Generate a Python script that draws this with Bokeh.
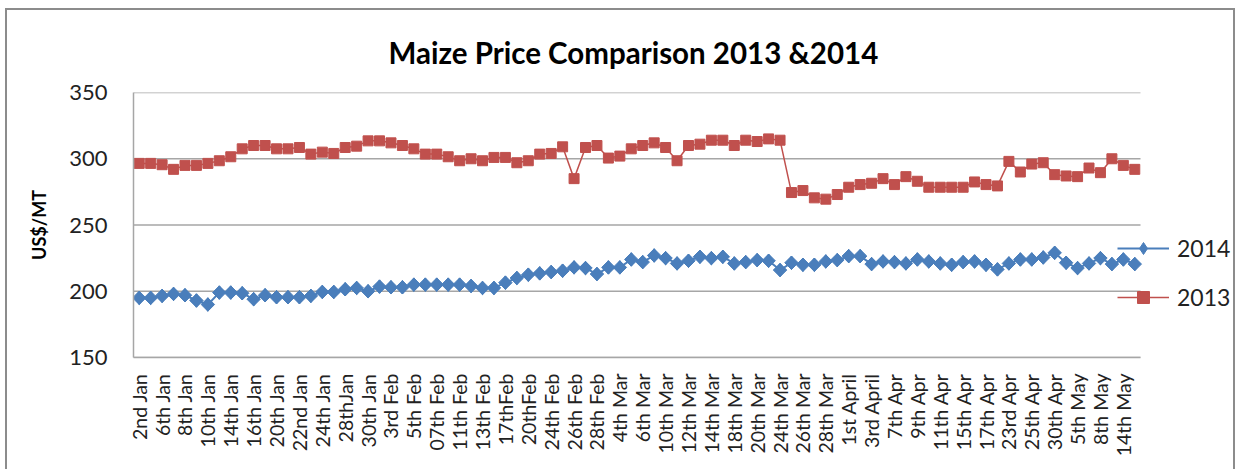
import math
from bokeh.plotting import figure
from bokeh.models import FixedTicker, Legend, LegendItem, Range1d
from bokeh.embed import file_html
from bokeh.resources import INLINE

title_text = "Maize Price Comparison  2013 &2014"
y_label = "US$/MT"
y_ticks = [150, 200, 250, 300, 350]

tick_labels = ["2nd Jan", "6th Jan", "8th Jan", "10th Jan", "14th Jan", "16th Jan", "20th Jan",
               "22nd Jan", "24th Jan", "28thJan", "30th Jan", "3rd Feb", "5th Feb", "07th Feb",
               "11th Feb", "13th Feb", "17thFeb", "20thFeb", "24th Feb", "26th Feb", "28th Feb",
               "4th Mar", "6th Mar", "10th Mar", "12th Mar", "14th Mar", "18th Mar", "20th Mar",
               "24th Mar", "26th Mar", "28th Mar", "1st April", "3rd April", "7th Apr", "9th Apr",
               "11th Apr", "15th Apr", "17th Apr", "23rd Apr", "25th Apr", "30th Apr", "5th May",
               "8th May", "14th May"]

price_2013 = [296.5, 296.5, 295.5, 292, 295, 295, 296.5, 298.5, 301.5, 307.5,
              310, 310, 307.5, 307.5, 308.5, 303.5, 305, 304, 308.5, 309.5,
              313.5, 313.5, 312, 310, 307.5, 303.5, 303.5, 301.5, 298.5, 300,
              298.5, 301, 301, 297, 298.5, 303.5, 304, 309, 285, 308.5,
              310, 300.5, 302, 307.5, 310, 312, 308.5, 298.5, 310, 311,
              314, 314, 310, 314, 313, 315, 314, 274.5, 276, 270.5,
              269.5, 273, 278.5, 280.5, 281.5, 285, 280.5, 286.5, 283, 278.5,
              278.5, 278.5, 278.5, 282.5, 280.5, 279.5, 298, 290, 296, 297,
              288, 287, 286.5, 293, 289.5, 300, 295, 292]

price_2014 = [195, 195, 196.5, 198, 197, 193, 190, 199, 199, 198.5,
              194, 197, 195.5, 195.5, 195.5, 196.5, 199.5, 199.5, 201.5, 202.5,
              200, 203.5, 203, 203, 205, 205, 205, 205, 205, 204,
              202.5, 202.5, 206.5, 210, 212.5, 213.5, 214.5, 215.5, 218, 217.5,
              213, 218, 218, 224, 222, 227, 225, 221, 223, 226,
              225, 226, 221, 222, 223.5, 223, 216, 221.5, 220, 220,
              222.5, 223.5, 226.5, 226.5, 220.5, 222.5, 222, 221, 224, 222.5,
              221, 220, 222, 222.5, 220, 216.5, 221, 224, 224, 225.5,
              229, 221.5, 217.5, 221, 225, 220.5, 224, 220.5]

x = list(range(len(price_2013)))
n = len(x)

FONT = "Lato"
BLUE = "#4A7EBB"
RED = "#C0504D"
GRID = "#a6a6a6"

W, H = 1230, 461
MB_LEFT, MB_RIGHT, MB_TOP, MB_BOTTOM = 126, 0, 79, 114
PLOT_W = 1007  # pixel width of the category area
frame_w = W - MB_LEFT - MB_RIGHT
x_end = -0.5 + frame_w * n / PLOT_W   # frame extends right to hold the legend

p = figure(width=W, height=H, output_backend="svg", toolbar_location=None,
           x_range=Range1d(-0.5, x_end), y_range=Range1d(y_ticks[0], y_ticks[-1]),
           min_border_left=MB_LEFT, min_border_right=MB_RIGHT,
           min_border_top=MB_TOP, min_border_bottom=MB_BOTTOM,
           title=title_text)
p.styles = {"margin-left": "5px", "margin-top": "8px",
            "border-top": "2px solid #8c8c8c", "border-left": "2px solid #8c8c8c",
            "border-right": "2px solid #8c8c8c"}
p.outline_line_color = None
p.background_fill_color = "white"
p.border_fill_color = "white"

p.title.text_font = FONT
p.title.text_font_size = "29.5px"
p.title.text_font_style = "bold"
p.title.text_color = "#000000"
p.title.align = "left"
p.title.offset = 255
p.title.standoff = 45

p.xgrid.visible = False
p.ygrid.visible = False
# horizontal gridlines limited to the category area
p.segment(x0=[-0.5] * len(y_ticks), x1=[n - 0.5] * len(y_ticks), y0=y_ticks, y1=y_ticks,
          line_color=GRID, line_width=1.5)

p.yaxis.ticker = FixedTicker(ticks=y_ticks)
p.yaxis.major_tick_line_color = None
p.yaxis.minor_tick_line_color = None
p.yaxis.axis_line_color = GRID
p.yaxis.axis_line_width = 1.5
p.yaxis.major_label_text_font = FONT
p.yaxis.major_label_text_font_size = "22px"
p.yaxis.major_label_text_color = "#222222"
p.yaxis.major_label_standoff = 20
p.yaxis.axis_label = y_label
p.yaxis.axis_label_text_font = FONT
p.yaxis.axis_label_text_font_size = "18px"
p.yaxis.axis_label_text_font_style = "bold"
p.yaxis.axis_label_text_color = "#000000"
p.yaxis.axis_label_standoff = 16

p.xaxis.ticker = FixedTicker(ticks=list(range(0, n, 2)))
p.xaxis.bounds = (-0.5, n - 0.5)
p.xaxis.major_label_overrides = {i * 2: lab for i, lab in enumerate(tick_labels)}
p.xaxis.major_label_orientation = math.pi / 2
p.xaxis.major_tick_line_color = None
p.xaxis.minor_tick_line_color = None
p.xaxis.axis_line_color = GRID
p.xaxis.axis_line_width = 1.5
p.xaxis.major_label_text_font = FONT
p.xaxis.major_label_text_font_size = "19.5px"
p.xaxis.major_label_text_color = "#222222"
p.xaxis.major_label_standoff = 10

r13l = p.line(x, price_2013, line_color=RED, line_width=1.5)
r13m = p.scatter(x, price_2013, marker="square", size=10, fill_color=RED, line_color=RED)
r14l = p.line(x, price_2014, line_color=BLUE, line_width=2)
# diamond markers (used for the legend swatch), covered by the rotated squares below
r14k = p.scatter(x, price_2014, marker="diamond", size=13.5, fill_color=BLUE, line_color=BLUE)
r14m = p.scatter(x, price_2014, marker="square", angle=math.pi / 4, size=9.5,
                 fill_color=BLUE, line_color=BLUE)

legend = Legend(items=[LegendItem(label="2014", renderers=[r14l, r14k]),
                       LegendItem(label="2013", renderers=[r13l, r13m])],
                location=(984, 45), glyph_width=52, glyph_height=30, label_height=30,
                spacing=19, padding=0, margin=0, label_standoff=8,
                border_line_color=None, background_fill_alpha=0,
                label_text_font=FONT, label_text_font_size="23px",
                label_text_color="#222222")
p.add_layout(legend, "center")

open("out.html", "w").write(file_html(p, INLINE))
